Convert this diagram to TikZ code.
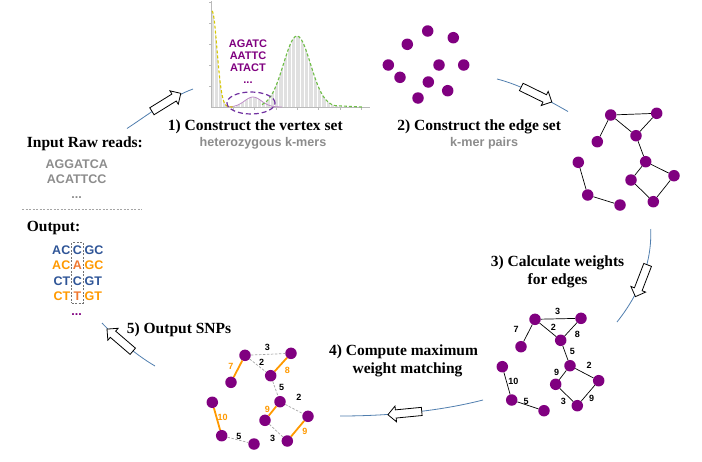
\documentclass[tikz,border=0pt]{standalone}
\usepackage{fontspec}
\setmainfont{Liberation Serif}
\setsansfont{Liberation Sans}
\usetikzlibrary{shapes.arrows}
\definecolor{dotc}{RGB}{128,0,128}
\definecolor{cyc}{RGB}{80,126,174}
\definecolor{org}{RGB}{255,153,0}
\definecolor{orgdk}{RGB}{240,120,50}
\definecolor{blu}{RGB}{47,85,151}
\definecolor{gtxt}{RGB}{140,140,140}
\definecolor{axisc}{RGB}{185,185,185}
\definecolor{histc}{RGB}{224,224,224}
\definecolor{yel}{RGB}{215,200,0}
\definecolor{grn}{RGB}{110,190,70}
\definecolor{vio}{RGB}{112,48,160}
\definecolor{bumpc}{RGB}{190,140,200}
\definecolor{dashg}{RGB}{165,165,165}
\begin{document}
\begin{tikzpicture}[x=1pt,y=-1pt,
  dot/.style={circle,fill=dotc,inner sep=0pt,minimum size=11.5pt},
  edge/.style={draw=black,line width=0.7pt},
  medge/.style={draw=org,line width=1.8pt},
  dedge/.style={draw=dashg,line width=0.7pt,dash pattern=on 2.5pt off 1.5pt},
  ttl/.style={font=\fontsize{15.5}{17}\selectfont\bfseries,inner sep=0pt,anchor=base},
  sub/.style={font=\sffamily\bfseries\fontsize{12.6}{14}\selectfont,text=gtxt,inner sep=0pt,anchor=base},
  seq/.style={font=\sffamily\bfseries\fontsize{12.5}{14}\selectfont,inner sep=0pt,anchor=base},
  kmer/.style={font=\sffamily\bfseries\fontsize{11}{13}\selectfont,inner sep=0pt,anchor=base,text=dotc},
  wt/.style={font=\sffamily\bfseries\fontsize{9}{10}\selectfont,inner sep=0pt},
  owt/.style={wt,text=org},
  cycline/.style={draw=cyc,line width=0.8pt},
  blockarrow/.style={single arrow,draw=black,fill=white,line width=0.8pt,minimum height=34pt,minimum width=15pt,single arrow head extend=3.8pt,inner xsep=0pt,inner ysep=3.7pt,sloped,allow upside down},
]
\useasboundingbox (0,0) rectangle (702,461);

% ---------- histogram ----------
\fill[histc] (212,107) -- plot[domain=212:236,samples=30] (\x,{107-96*exp(0-((\x-212)/7)^2)}) -- (236,107) -- cycle;
\fill[histc] (226,107) -- plot[domain=226:282,samples=30] (\x,{107-10*exp(0-((\x-253)/12)^2)}) -- (282,107) -- cycle;
\fill[histc] (258,107) -- plot[domain=258:345,samples=50] (\x,{107-71*exp(0-((\x-297)/13.5)^2/2)}) -- (345,107) -- cycle;
\foreach \k in {0,...,31} \draw[white,line width=0.5pt] ({214+4.3*\k},2) -- ({214+4.3*\k},106.6);
\draw[axisc,line width=0.6pt] (211.5,1) -- (211.5,107) -- (370,107);
\foreach \t in {233,254,276,297,318,340,361} \draw[axisc,line width=0.5pt] (\t,107) -- (\t,109.5);
\foreach \t in {2,23,44,65,86} \draw[axisc,line width=0.5pt] (211.5,\t) -- (209,\t);
\draw[bumpc,line width=0.8pt] plot[domain=227:282,samples=30] (\x,{107-10*exp(0-((\x-253)/12)^2)});
\draw[yel,line width=1.1pt,dash pattern=on 3pt off 2pt] plot[domain=212:234,samples=40] (\x,{107-96*exp(0-((\x-212)/7)^2)});
\draw[grn,line width=1.1pt,dash pattern=on 3pt off 2pt] plot[domain=262:335,samples=50] (\x,{107-71*exp(0-((\x-297)/13.5)^2/2)}) -- (362,107);
\draw[vio,line width=1.2pt,dash pattern=on 5pt off 3pt] (251,103) ellipse [x radius=24pt,y radius=11pt];
\node[kmer] (k1) at (248,47.3) {AGATC};
\node[kmer] (k2) at (248,59) {AATTC};
\node[kmer] (k3) at (248,71.7) {ATACT};
\node[kmer] (k4) at (248,83.5) {...};

% ---------- titles ----------
\node[ttl] (t1) at (255.3,130.7) {1) Construct the vertex set};
\node[sub] (s1) at (263,146.7) {heterozygous k-mers};
\node[ttl] (t2) at (479.2,130.7) {2) Construct the edge set};
\node[sub] (s2) at (484.2,146.7) {k-mer pairs};
\node[ttl] (t3) at (557.5,266.5) {3) Calculate weights};
\node[ttl] (t3b) at (557.5,284.5) {for edges};
\node[ttl] (t4) at (403.5,355) {4) Compute maximum};
\node[ttl] (t4b) at (407.5,373) {weight matching};
\node[ttl] (t5) at (179,333) {5) Output SNPs};

% ---------- left column ----------
\node[ttl,anchor=base west] (inp) at (26.7,147) {Input Raw reads:};
\node[seq,text=gtxt] (r1) at (76.7,168) {AGGATCA};
\node[seq,text=gtxt] (r2) at (76.7,183) {ACATTCC};
\node[seq,text=gtxt] (r3) at (76.7,198) {...};
\coordinate (sepL) at (22,209.3);
\coordinate (sepR) at (142,209.3);
\draw[dashg,line width=0.6pt,dash pattern=on 2pt off 1.5pt] (sepL) -- (sepR);
\node[ttl,anchor=base west] (outp) at (26.7,231) {Output:};
\node[seq,text=blu,anchor=base east] (o1a) at (70.5,254) {AC};
\node[seq,text=blu] (o1b) at (77.5,254) {C};
\node[seq,text=blu,anchor=base west] (o1c) at (84.5,254) {GC};
\node[seq,text=org,anchor=base east] (o2a) at (70.5,269) {AC};
\node[seq,text=orgdk] (o2b) at (77.5,269) {A};
\node[seq,text=org,anchor=base west] (o2c) at (84.5,269) {GC};
\node[seq,text=blu,anchor=base east] (o3a) at (70.5,285) {CT};
\node[seq,text=blu] (o3b) at (77.5,285) {C};
\node[seq,text=blu,anchor=base west] (o3c) at (84.5,285) {GT};
\node[seq,text=org,anchor=base east] (o4a) at (70.5,300.5) {CT};
\node[seq,text=orgdk] (o4b) at (77.5,300.5) {T};
\node[seq,text=org,anchor=base west] (o4c) at (84.5,300.5) {GT};
\node[draw=black!55,line width=0.6pt,dash pattern=on 2pt off 1.5pt,inner sep=0pt,minimum width=11.6pt,minimum height=60.6pt] (colbox) at (77.5,273) {};
\node[seq,text=dotc] (o5) at (76.7,315) {...};

% ---------- top vertex set ----------
\foreach \n/\px/\py in {1/427.7/31,2/453.3/37.7,3/407.3/44.3,4/388.3/65,5/439/65,6/463.7/65,7/400/77.3,8/428.3/82,9/447.7/90.7,10/418/98}
  \node[dot] (P\n) at (\px,\py) {};

% ---------- edge set graph ----------
\foreach \n/\px/\py in {A/610.7/115,B/656.7/113.3,C/597.3/141.7,D/636/135.7,E/645.7/161.7,F/578.3/162.3,G/631/180,H/674/175.7,I/587.7/195,J/653.3/201.7,K/620/205}
  \node[dot] (R\n) at (\px,\py) {};
\foreach \a/\b in {A/B,A/C,A/D,B/D,D/E,E/H,E/G,G/J,H/J,F/I,I/K}
  \draw[edge] (R\a) -- (R\b);

% ---------- weighted graph ----------
\foreach \n/\px/\py in {A/535/319.3,B/581/318.3,C/521/346.7,D/560.7/340.3,E/570/365.7,F/502.3/366.7,G/555.7/384.3,H/598.7/380.7,I/511.7/400,J/577.3/405.7,K/544/410.7}
  \node[dot] (W\n) at (\px,\py) {};
\foreach \a/\b in {A/B,A/C,A/D,B/D,D/E,E/H,E/G,G/J,H/J,F/I,I/K}
  \draw[edge] (W\a) -- (W\b);
\foreach \n/\px/\py/\w in {1/557.7/311/3,2/516/329/7,3/553.3/327.7/2,4/577.3/334.3/8,5/572.3/351.7/5,6/589/365/2,7/556.7/372.3/9,8/563.3/401.7/3,9/591.7/398.3/9,10/513.3/381.7/10,11/526/401.7/5}
  \node[wt] (ww\n) at (\px,\py) {\w};

% ---------- matching graph ----------
\foreach \n/\px/\py in {A/245/355.3,B/291/353.3,C/231/382.3,D/270.7/375.7,E/280/401.7,F/212.3/402.3,G/265/420.3,H/308/416.3,I/221.7/435.7,J/287.3/441,K/254/444}
  \node[dot] (M\n) at (\px,\py) {};
\foreach \a/\b in {A/B,A/D,D/E,E/H,G/J,I/K}
  \draw[dedge] (M\a) -- (M\b);
\foreach \a/\b in {A/C,B/D,F/I,E/G,H/J}
  \draw[medge] (M\a) -- (M\b);
\foreach \n/\px/\py/\w in {1/267.3/347.3/3,3/261.7/362.7/2,5/281.7/387.3/5,6/299/397.7/2,8/272.7/438.3/3,11/239/436/5}
  \node[wt] (mw\n) at (\px,\py) {\w};
\foreach \n/\px/\py/\w in {2/231/366/7,4/287.3/370/8,7/267.3/409/9,10/222.7/417.3/10,9/305/431/9}
  \node[owt] (mw\n) at (\px,\py) {\w};

% ---------- cycle ----------
\coordinate (c1a) at (127,128.5); \coordinate (c1b) at (193,89);
\coordinate (c2a) at (497,79);   \coordinate (c2b) at (568,111.5);
\coordinate (c3a) at (650.7,229); \coordinate (c3b) at (617,322);
\coordinate (c4a) at (483,400);   \coordinate (c4b) at (340,416);
\coordinate (c5a) at (155,366);   \coordinate (c5b) at (102,323);
\draw[cycline] (c1a) .. controls (149,114) and (171,97) .. (c1b) node[blockarrow,pos=0.57] (ar1) {};
\draw[cycline] (c2a) .. controls (521,85) and (546,99) .. (c2b) node[blockarrow,pos=0.52] (ar2) {};
\draw[cycline] (c3a) .. controls (652,262) and (640,293) .. (c3b) node[blockarrow,pos=0.52] (ar3) {};
\draw[cycline] (c4a) .. controls (440,411) and (390,416) .. (c4b) node[blockarrow,pos=0.55] (ar4) {};
\draw[cycline] (c5a) .. controls (136,355) and (114,336) .. (c5b) node[blockarrow,pos=0.58] (ar5) {};
\end{tikzpicture}
\end{document}
